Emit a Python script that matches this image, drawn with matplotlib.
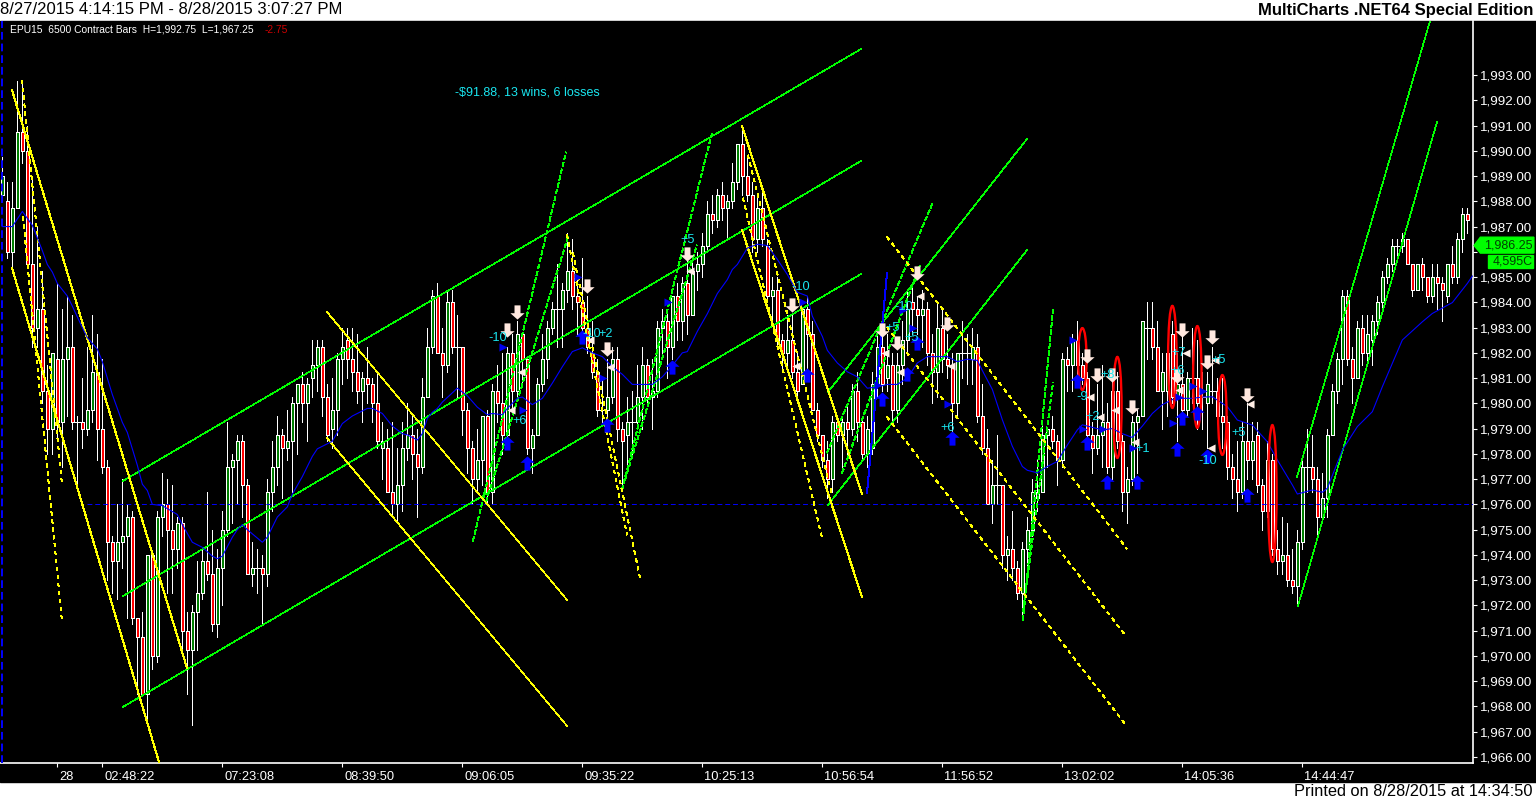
import matplotlib
matplotlib.use('Agg')
import matplotlib.pyplot as plt
from matplotlib.patches import Ellipse, Rectangle
from matplotlib.path import Path
from matplotlib.transforms import ScaledTranslation

plt.rcParams['font.family'] = ['Liberation Sans', 'DejaVu Sans']

# Candles, one value per bar
highs = [
    1989.75,1988.75,1988.75,1992.75,1992.75,1991,1989,1987,1985.25,1981.5,1982,1984.75,1983.75,1984.25,1983.5,1979.5,1981,1982.25,1983.5,1982.75,1981.75,1977.75,1974.75,1976,1977,1976,1975.75,1971.5,1971.75,1974,1974,1975.75,1977.25,1977,1976.75,1975.5,1975.5,1971.75,1972,1973.75,1974.25,1976.5,1975,1974.25,1975.75,1979.25,1978,1978.75,1978.75,
    1977,1974.5,1974.25,1974,1977,1978.5,1979.5,1979,1979.75,1980.25,1980.75,1981.25,1981,1982.5,1982.5,1982.5,1980.75,1981,1982,1983,1983,1983,1982.75,1981.25,1982.25,1981,1981.25,1979.25,1979,1979.25,1978.25,1979.25,1980,1979.5,1979,1981,1983,1984.5,1984.75,1983,1984.5,1984.5,1983.5,1982.25,1980,1978.5,1979,1979.5,1979.75,
    1980.75,1981.5,1982,1982.25,1982.75,1983.25,1982.75,1981.75,1979,1981,1982.75,1983.25,1984,1985.5,1984.75,1986.75,1986.5,1985,1985.75,1984.25,1983.25,1981.75,1981,1981.75,1982.25,1982.25,1979.25,1980.25,1980.5,1981.5,1982.25,1981.75,1981.75,1983.25,1983.75,1983.75,1984.25,1984.75,1985,1986,1985.75,1986,1986.75,1988,1988.25,1988.5,1988.75,1988.25,1989.5,
    1990.25,1991,1989.75,1988.75,1988.25,1988.5,1986.5,1985,1985,1982.75,1983.5,1983.5,1982,1983.75,1984.25,1983.25,1980,1978.75,1978.5,1979.5,1979.5,1979.5,1980,1980.75,1981.25,1979.5,1979.5,1981.25,1982.75,1983,1982.75,1982,1982,1983.25,1984.5,1984.75,1984.25,1984.5,1984,1982.75,1984,1983.75,1982.75,1982,1982,1983.25,1982.75,1983,1982.75,
    1980.75,1979,1977.75,1978.75,1976.75,1974.75,1975.75,1973.75,1974.5,1975.5,1977,1977.75,1979.25,1979,1979.5,1978.75,1982,1982.25,1982.75,1983.25,1982,1981.25,1979.25,1980.75,1981.5,1980,1981,1981.25,1978.75,1977.5,1979.5,1979.75,1983.25,1984,1984,1983.25,1982,1982.25,1983.25,1982,1983,1981.25,1983,1982.5,1981.25,1981.25,1982.25,1981,1981,
    1979.5,1978,1978.5,1979.25,1980,1979.25,1979.25,1977,1978.5,1978,1975,1975.5,1975.25,1974.25,1975,1977.75,1979,1978.75,1977.5,1977.25,1979,1980.75,1982,1984.5,1984.5,1982.25,1983.25,1983.5,1983.5,1983.5,1984.25,1985.25,1985.75,1986.5,1986.5,1986.75,1986.5,1985.5,1985.5,1985.75,1985,1985.5,1985.5,1985,1985.5,1986.25,1986.75,1987.75,1987.75,
]
body_tops = [
    1989,1988,1987.75,1990.75,1990.75,1990,1985.5,1983.75,1983.75,1980.5,1982,1981.75,1981.75,1982.25,1982.25,1979.25,1979.25,1979.75,1981.25,1981.25,1979,1977.5,1974.5,1974.5,1974.75,1975.5,1975.5,1971.5,1970.75,1974,1974,1975.5,1976,1976,1975,1975.25,1975.25,1971,1971.75,1972.5,1973.75,1973.75,1973.25,1973.5,1975,1977.5,1977.75,1978.5,1978.5,
    1976.75,1973.5,1973.5,1973.5,1976.5,1977.5,1978.75,1978.75,1978.5,1980,1980.75,1980.75,1980.75,1981.5,1982.25,1982.25,1980.25,1979.75,1981.75,1982.25,1982.5,1981.75,1981.25,1981,1981,1980.75,1980,1978.5,1978.25,1976.5,1976.75,1978.25,1978.75,1978.75,1978,1980.25,1982.25,1984.25,1984.25,1982,1984,1984,1982.25,1982.25,1979.75,1978.25,1977.75,1979.5,1979.5,
    1980.5,1980.5,1980,1982,1982,1982.75,1982.75,1981.75,1978.75,1980.75,1981.75,1983,1983.75,1983.75,1984.5,1985.25,1985.25,1984.25,1984,1983,1982,1981.25,1979.75,1980.25,1981.75,1981.75,1979,1979.25,1979.25,1980.25,1981.5,1981.5,1980.5,1983,1983.25,1983.25,1984.25,1984.25,1984.75,1984.75,1985.25,1985.5,1986.25,1987.5,1987.5,1988.25,1988.25,1988,1988.75,
    1990.25,1990.25,1989,1988.25,1987.75,1987.75,1986.25,1984.5,1984.5,1982.5,1982.5,1982.5,1981.25,1983.75,1983.75,1982.75,1979.75,1978.75,1977.75,1979.25,1979.25,1979.25,1979.25,1980.5,1980.5,1979.25,1979,1980.75,1982.25,1982.25,1981.5,1981.5,1981.5,1982.5,1983.75,1984,1983.75,1983.75,1983.75,1982,1983,1983,1981.75,1981.5,1982,1982,1982,1982.25,1982.25,
    1979.5,1978.25,1976.75,1976.75,1976.75,1974.25,1974.25,1973.5,1974.25,1975,1976.5,1976.5,1978.75,1979,1979,1978.5,1981.75,1981.75,1982.5,1982.5,1981.5,1981,1978.75,1978.75,1979.25,1979.25,1980.5,1980.5,1978.5,1977,1979.25,1979.5,1983.25,1983,1983,1982.25,1981.25,1982,1982.75,1980.75,1980.75,1981,1981,1981,1980.25,1980.75,1980.5,1980.5,1979.5,
    1979.25,1977.5,1977,1978.5,1978.5,1978.5,1978.75,1976.75,1977.75,1977.75,1974.25,1974,1974,1973,1974.5,1977.5,1977.5,1977.5,1977,1976.25,1978.75,1980.5,1981.75,1984.25,1984.25,1981.75,1983,1983,1982.75,1983.25,1984,1985,1985.5,1986.25,1986.25,1986.5,1986.5,1985.5,1985.5,1985.5,1985,1985,1985,1984.75,1985.5,1985.5,1986.5,1987.5,1987.5,
]
body_bottoms = [
    1988.25,1986,1986,1987.75,1990,1985.5,1983,1983,1980.5,1979,1979,1979.25,1979.25,1981.75,1979.25,1979.25,1979,1979,1979.75,1979,1977.5,1974.5,1973.75,1973.75,1974.5,1974.75,1971.5,1970.75,1968.5,1968.5,1970,1970,1975.5,1975,1974.25,1974.25,1971,1970.25,1970.25,1971.75,1972.5,1973.25,1971.25,1971.25,1973.5,1975,1977.5,1977.75,1976.75,
    1973.25,1973.25,1973.5,1973.25,1973.25,1976.5,1977.5,1978.25,1978.25,1978.5,1980,1980,1980,1981,1981.5,1980.25,1978.75,1979,1979.75,1981.75,1981.75,1981.25,1980.5,1980.5,1980.75,1980,1978.5,1978.25,1976.5,1976,1976,1976.75,1978.25,1978,1977.5,1977.5,1980.25,1982.25,1982,1981.5,1981.5,1982.25,1982.25,1979.75,1978.25,1977,1977,1977.75,1976.5,
    1976.5,1980,1978.75,1978.75,1980.5,1980.5,1981.75,1978.25,1978.25,1978.75,1980.75,1981.75,1983,1983.75,1983.75,1984.5,1984.25,1984,1983,1982.25,1981.25,1979.75,1979.75,1979.75,1980.25,1979,1978.5,1978.75,1979.25,1979.25,1980.25,1980.25,1980.25,1980.5,1983,1982.25,1982.25,1983.25,1983.25,1983.5,1983.5,1985.25,1985.5,1986.25,1987.25,1987.25,1987.75,1987.75,1988,
    1988.75,1989,1988.25,1986.5,1986.5,1986.5,1984.25,1984.25,1982.5,1982,1982,1981.25,1980.5,1980.75,1982.75,1979.75,1978.75,1977.75,1977,1977,1978.75,1978.75,1979,1979,1979.25,1978,1978,1978.25,1980.75,1980.75,1981,1979.75,1979.75,1981.5,1982.5,1983.75,1983.5,1983.5,1982,1981.25,1981.25,1981.75,1981.5,1980,1980,1982,1982,1981.75,1979.5,
    1978.25,1976,1976,1976.75,1974,1974,1973.5,1972.5,1972.5,1974.25,1975,1976.25,1976.5,1978.75,1978.5,1977.75,1977.75,1981.5,1981.5,1981.5,1981,1978.75,1978.25,1978.25,1978.75,1977.5,1977.5,1978.5,1976.5,1976.5,1977,1979.25,1979.5,1983,1982.25,1980.5,1980.5,1980.5,1980.25,1980.25,1979.75,1979.75,1981,1980,1980.25,1980,1980.5,1979.5,1979.25,
    1977.5,1977,1976.5,1976.5,1977.75,1977.75,1976.75,1975.75,1975.75,1974.25,1973.75,1973.75,1973,1972.75,1972.75,1974.5,1977.5,1977,1975.5,1975.5,1976.25,1978.75,1980.5,1981.75,1981.75,1981,1981,1982,1982,1982.5,1983.25,1984,1985,1985.5,1986.25,1986.25,1985.5,1984.5,1984.5,1985,1984.25,1984.25,1984.75,1984.5,1984.25,1985,1985,1986.5,1987.25,
]
lows = [
    1988,1985.75,1985.25,1987.75,1989.5,1985.5,1982.25,1982.25,1980,1978,1978,1978.5,1977.5,1979.5,1979,1976.75,1978.25,1978.75,1979.25,1977.75,1977.25,1973,1972.5,1972.25,1973.5,1971.5,1971.25,1968.5,1968.5,1967.5,1969.5,1969.75,1974.75,1972.5,1972.5,1973.5,1970.25,1968.5,1967.25,1970.25,1972.25,1973,1971,1970.75,1972,1974.75,1975.25,1976,1975.5,
    1973.25,1972.75,1972.5,1971.25,1972.75,1975.75,1976.75,1976.25,1977.75,1976.5,1978,1979.25,1978.5,1980.25,1980.5,1979.5,1978.5,1978.25,1978.75,1980.75,1981,1980.5,1980,1979.25,1980,1979.25,1978.25,1977,1976.5,1975.5,1975.25,1975.75,1977.75,1977,1975.5,1977.25,1980.25,1982,1982,1980.25,1981.25,1982,1980.25,1978.75,1977.25,1976,1976.5,1976.75,1976,
    1976,1979.25,1978,1978.5,1979.75,1980.25,1980.75,1978,1977.25,1978.75,1980.5,1981,1982.75,1982.25,1982.25,1984,1983.75,1982.75,1982.75,1982,1981,1979.5,1979.25,1979.5,1980,1978.5,1976.75,1977.25,1978,1979,1979,1980,1979,1980.25,1982,1981,1981.75,1982.5,1982.5,1982.75,1983.5,1984.5,1985,1986,1986.75,1987,1987.25,1986.5,1987.75,
    1988.5,1988.25,1988,1986,1986,1986.25,1984,1983.25,1982.25,1981.25,1981.5,1981,1980.25,1980.75,1981,1979.75,1978.5,1977.5,1976.25,1976.5,1978.5,1977.25,1978,1978.75,1978.5,1977.75,1977.5,1978,1980.25,1980.5,1980.5,1979.25,1979.25,1980.75,1982,1982.75,1982.75,1982.25,1981.5,1980,1980.25,1981.25,1981,1978.75,1979.5,1981,1980.75,1980.75,1979.25,
    1978,1976,1975.25,1976,1973.5,1973,1973,1972.25,1971.5,1973.5,1974.75,1975.75,1976.5,1977.5,1978.25,1976.75,1977.5,1980.5,1980.5,1980.75,1980.75,1978.5,1977.25,1978,1977.5,1977.25,1977,1978.25,1975.75,1975.25,1976.75,1977.25,1979.5,1981.75,1981.75,1980.5,1979,1979.5,1980,1978.5,1979.5,1979.5,1980,1979,1979,1978.25,1980,1979.5,1978.25,
    1977,1976.25,1975.75,1976.25,1977,1977,1976.5,1975,1975.5,1974,1973.25,1973.25,1972.75,1972.5,1972,1974.25,1976.5,1976.5,1974.75,1975.5,1975.5,1978.75,1980,1980.75,1981.5,1980,1981,1981.5,1981.5,1981.5,1982.75,1983.75,1984.75,1985.25,1985.75,1986,1985.5,1984.25,1984.5,1984.5,1984,1984,1983.75,1983.25,1984,1984.75,1984.75,1986,1986.75,
]
# g = up bar, r = down bar, w = open equals close
bar_kinds = list(
    "grggrrrgrr" "grggrwrggr" "rrrgggrrrg" "rggrrgrrgg" "grrgggggr"
    "rgwrgggrgg" "grgggrrggg" "rrrgrrrgrr" "gggrrgggrr" "grwrrrggr"
    "grrgrgrrgg" "gggwggrrrr" "rrwggrrgwg" "grgggrgrgr" "ggggrgrgg"
    "grrrgrrgrr" "grrgrrrrrg" "rgrgrrgggr" "grgggrrgrr" "grrrgwwgr"
    "rrgwrgrrgg" "ggggrrgrgr" "rrrggrgrrg" "gggwrrggrg" "rgwrwgwrr"
    "rrrgrgrrgr" "rgrrggwrrg" "ggggrrgrgg" "ggggwgrrgr" "rgrrgrggr"
)

# Blue average, sampled where its bends can be read
avg_bars = [0,2,4,6,8,9,10,11,13,14,16,17,19,20,22,24,25,27,28,29,30,32,35,36,38,40,42,43,44,46,47,48,
            49,52,53,55,57,58,60,62,63,65,66,68,70,72,73,74,76,78,80,81,83,84,85,86,87,88,91,93,95,97,
            98,100,101,103,104,106,108,110,112,114,116,118,120,122,124,126,128,130,132,134,136,137,139,141,143,145,146,
            147,149,151,153,155,157,159,161,162,164,165,167,169,171,173,175,177,179,181,183,185,187,189,191,193,195,
            196,198,200,202,204,205,206,207,209,211,213,215,216,218,220,222,224,226,228,230,232,234,236,238,240,242,
            245,247,250,253,255,258,259,262,264,265,268,271,274,276,280,284,286,290,293,294]
avg_prices = [1987,1987,1987.6,1987.05,1986.05,1985.5,1985.2,1984.75,1984.25,1983.85,1983,1982.6,1982.15,1981.65,1980.35,1979.25,1978.85,1977.55,1976.8,1976.55,1976,1975.95,1975.6,1975.2,1974.5,1974.3,1973.95,1973.85,1973.95,1974.7,1975,1975.2,
              1975,1974.5,1974.7,1975.5,1975.9,1976.4,1977.1,1977.9,1978.2,1978.4,1978.5,1979.2,1979.5,1979.7,1979.8,1979.8,1979.6,1979.1,1978.8,1978.75,1978.55,1978.8,1979.4,1979.65,1979.8,1980.05,1980.6,1980.3,1979.85,1979.55,
              1979.6,1979.55,1979.8,1980.2,1980.25,1979.95,1980.2,1980.8,1981.45,1982.05,1982.2,1982,1981.85,1981.45,1981.15,1980.75,1980.75,1980.75,1981.05,1981.5,1982,1982.05,1982.85,1983.55,1984.35,1984.9,1985.3,
              1985.5,1986.15,1986.3,1986.25,1985.7,1985.1,1984.4,1984.25,1983.45,1982.65,1982.1,1981.6,1981.25,1981.05,1980.6,1980.65,1980.75,1980.75,1981,1981.6,1981.85,1981.85,1981.85,1981.65,1981.75,1981.7,
              1981.3,1980.55,1979.35,1978.3,1977.5,1977.35,1977.3,1977.25,1977.5,1977.7,1978.35,1978.95,1979.15,1979.05,1978.95,1979,1978.8,1978.65,1979.1,1979.6,1979.95,1980.15,1980.2,1980.2,1980.25,1980.26,
              1979.87,1979.34,1979.14,1978.48,1977.76,1976.77,1976.41,1976.57,1976.48,1976.64,1978.15,1979.08,1979.67,1980.66,1982.51,1983.23,1983.56,1983.99,1984.75,1985.04]

# Trend lines as (bar, bar, price, price)
green_solid = [
    (24.13, 171.73, 1976.93, 1994.03), (24.13, 171.73, 1972.37, 1989.6), (24.13, 171.73, 1967.98, 1985.12),
    (165.13, 204.93, 1980.45, 1990.47), (165.13, 204.93, 1975.98, 1986.07),
    (258.93, 285.53, 1977.09, 1995.14), (259.13, 286.93, 1971.98, 1991.14),
]
green_dashed = [
    (94.13, 112.73, 1974.55, 1989.95), (96.73, 113.13, 1976.1, 1986.59),
    (123.93, 141.93, 1976.57, 1990.7), (124.53, 138.93, 1976.97, 1986.27),
    (164.93, 186.13, 1978.04, 1987.97), (167.93, 183.53, 1977.24, 1985.48),
    (204.13, 210.13, 1971.42, 1983.7), (204.13, 210.13, 1971.74, 1980.81),
]
yellow_thick = [
    (1.93, 36.93, 1992.41, 1969.52), (1.93, 31.33, 1985.36, 1965.8),
    (147.93, 171.93, 1990.98, 1976.41), (147.93, 171.93, 1986.86, 1972.33),
]
yellow_thin = [(64.93, 112.93, 1983.62, 1972.22), (64.93, 112.93, 1978.63, 1967.23)]
yellow_dashed = [
    (3.93, 11.93, 1992.8, 1976.81), (4.13, 11.93, 1987.38, 1971.38),
    (148.13, 163.93, 1988.13, 1974.67), (149.13, 165.93, 1989.83, 1976.37),
    (112.93, 124.93, 1986.67, 1974.79), (114.13, 127.53, 1985.95, 1973.09),
    (176.93, 224.93, 1986.59, 1974.24), (176.93, 224.53, 1983.02, 1970.83), (176.93, 224.53, 1979.46, 1967.31),
]
blue_solid = [(172.93, 176.93, 1976.45, 1985.16)]

# Red ellipses round the losing trades
ellipse_bars = [216, 223, 234, 239, 244, 254]
ellipse_tops = [1982.98, 1981.84, 1983.86, 1983.06, 1981.12, 1979.14]
ellipse_bottoms = [1980.53, 1977.84, 1979.82, 1979.03, 1977.96, 1973.72]

# Trade markers
up_bars = [101,105,116,121,134,161,176,181,183,190,215,217,221,227,235,236,239,241,249]
up_prices = [1978.43,1977.64,1982.63,1979.14,1981.44,1981.12,1980.17,1981.16,1982.39,1978.63,1980.89,1978.43,1976.89,1976.89,1978.19,1979.42,1979.62,1977.92,1976.37]
down_bars = [103,101,117,121,137,158,176,179,183,189,217,219,222,226,235,236,241,242,249]
down_prices = [1983.62,1982.91,1984.65,1982.15,1985.91,1983.89,1982.91,1982.39,1985.16,1983.14,1981.88,1981.12,1981.12,1979.86,1981.08,1982.91,1981.64,1982.63,1980.33]
right_bars = [100.1,104.1,115.1,120.1,133.1,160.1,182.1,189.1,175.1,180.1,214.1,216.1,220.1,226.1,234.1,235.3,238.1,240.1]
right_prices = [1982.23,1979.74,1985,1981,1984.01,1984.01,1982.98,1979.98,1980.73,1983.7,1982.51,1978.99,1978.99,1978.23,1979.22,1980.25,1980.69,1980.49]
left_bars = [101.7,103.7,137.5,117.5,121.5,158.7,176.5,179.5,183.5,189.7,217.5,219.5,222.5,226.5,236.7,235.3,241.7,242.5,249.5]
left_prices = [1979.74,1981.24,1985.24,1982.51,1981.44,1981.48,1981.99,1981.24,1984.25,1981.48,1980.25,1979.46,1979.74,1978.47,1981.99,1980.53,1978.23,1981.72,1979.98]

# Trade results
result_texts = ['-10','+6','+5','-10','+2','-10','+5','-10','+5','+6','+8','-9','+2','+1','+7','+6','-10','+5','+5']
result_bars = [99,103.5,137,117.9,120.7,159.7,178,180.3,181.9,189,221.1,216,218,228,235.3,235.1,241,243.2,247.2]
result_prices = [1982.59,1979.3,1986.47,1982.75,1982.75,1984.6,1983,1983.8,1982.6,1979.03,1981.12,1980.25,1979.46,1978.2,1982,1981.28,1977.72,1981.72,1978.83]

# Axis labels, 1,986.00 sits under the last price tag
price_ticks = list(range(1966, 1994))
price_tick_labels = ['' if p == 1986 else f'{p:,.2f}' for p in price_ticks]
time_tick_bars = [11, 20, 44, 68, 92, 116, 140, 164, 188, 212, 236, 260]
time_tick_labels = ['28', '02:48:22', '07:23:08', '08:39:50', '09:06:05', '09:35:22', '10:25:13',
                    '10:56:54', '11:56:52', '13:02:02', '14:05:36', '14:44:47']

assert len(highs) == len(body_tops) == len(body_bottoms) == len(lows) == len(bar_kinds)
assert len(avg_bars) == len(avg_prices)

W, H = 1536, 801
fig = plt.figure(figsize=(W / 100, H / 100), dpi=100, facecolor='white')
fig.add_artist(Rectangle((0, 19 / H), 1, 761 / H, transform=fig.transFigure, color='black', zorder=-5))

ax = fig.add_axes([0, 1 - 763 / H, 1473 / W, 742 / H], facecolor='black')
ax.set_xlim(-0.466, 294.13)
ax.set_ylim(1965.76, 1995.14)

# Wicks, then bodies on top
bars = list(range(len(highs)))
ax.vlines(bars, lows, highs, color='white', lw=0.7, antialiased=False, zorder=2)
colours = {'g': '#008000', 'r': '#ff0000', 'w': 'white'}
solid = [i for i in bars if bar_kinds[i] != 'w']
ax.bar(solid, [body_tops[i] - body_bottoms[i] for i in solid], bottom=[body_bottoms[i] for i in solid],
       width=0.66, color=[colours[bar_kinds[i]] for i in solid], edgecolor='white', linewidth=0.6,
       antialiased=False, zorder=3)
doji = [i for i in bars if bar_kinds[i] == 'w']
ax.hlines([body_tops[i] for i in doji], [i - 0.45 for i in doji], [i + 0.45 for i in doji],
          color='white', lw=0.7, antialiased=False, zorder=3)

# Session break and reference price
ax.axvline(0, color='#0000ff', lw=1.4, ls=(0, (4, 2)), zorder=4)
ax.plot([17, 294.13], [1976, 1976], color='#0000ff', lw=0.7, ls=(0, (5, 3)), zorder=4)


def draw_lines(segments, **style):
    for x0, x1, y0, y1 in segments:
        ax.plot([x0, x1], [y0, y1], antialiased=False, zorder=5, **style)


draw_lines(green_solid, color='#00ff00', lw=0.42)
draw_lines(green_dashed, color='#00ff00', lw=0.42, ls=(0, (7, 5)))
draw_lines(yellow_thick, color='#ffff00', lw=0.75)
draw_lines(yellow_thin, color='#ffff00', lw=0.42)
draw_lines(yellow_dashed, color='#ffff00', lw=0.42, ls=(0, (6, 7)))
draw_lines(blue_solid, color='#0000ff', lw=0.75)
ax.plot(avg_bars, avg_prices, color='#0000ff', lw=0.8, zorder=5)

for bar, top, bottom in zip(ellipse_bars, ellipse_tops, ellipse_bottoms):
    ax.add_patch(Ellipse((bar, (top + bottom) / 2), 1.7, top - bottom, fill=False, edgecolor='#ff0000',
                         lw=1.7, zorder=6))

up_arrow = Path([(0, 1), (1, 0.1), (0.42, 0.1), (0.42, -1), (-0.42, -1), (-0.42, 0.1), (-1, 0.1), (0, 1)], closed=True)
down_arrow = Path([(0, -1), (1, -0.1), (0.42, -0.1), (0.42, 1), (-0.42, 1), (-0.42, -0.1), (-1, -0.1), (0, -1)], closed=True)
ax.scatter(up_bars, up_prices, s=105, marker=up_arrow, color='#0000ff', linewidths=0, zorder=7)
ax.scatter(down_bars, down_prices, s=105, marker=down_arrow, color='#ffe8df', linewidths=0, zorder=7)
ax.scatter(right_bars, right_prices, s=34, marker='>', color='#0000ee', linewidths=0, zorder=7)
ax.scatter(left_bars, left_prices, s=34, marker='<', color='#ffeee6', linewidths=0, zorder=7)

for text, bar, price in zip(result_texts, result_bars, result_prices):
    ax.text(bar, price, text, color='#19e6f0', fontsize=9.2, ha='center', va='center', zorder=8)
ax.text(90.5, 1992.3, '-$91.88, 13 wins, 6 losses', color='#19e6f0', fontsize=9, ha='left', va='center', zorder=8)

# Axes
for side in ['top', 'left']:
    ax.spines[side].set_visible(False)
for side in ['right', 'bottom']:
    ax.spines[side].set_color('white')
    ax.spines[side].set_linewidth(1.2)
ax.yaxis.tick_right()
ax.set_yticks(price_ticks)
ax.set_yticklabels(price_tick_labels)
ax.set_xticks(time_tick_bars)
ax.set_xticklabels(time_tick_labels)
ax.tick_params(axis='y', colors='white', length=3, width=0.8, pad=2, labelsize=9.6)
ax.tick_params(axis='x', colors='white', length=3, width=0.8, pad=3, labelsize=9.3)
for lab in ax.get_xticklabels():
    lab.set_ha('left')
    lab.set_transform(lab.get_transform() + ScaledTranslation(2 / 100, 0, fig.dpi_scale_trans))

# Last price tag and volume box, right of the plot
ax.fill([294.35, 295.6, 306.3, 306.3, 295.6], [1986.25, 1986.58, 1986.58, 1985.95, 1985.95],
        color='#00ff00', clip_on=False, zorder=9)
ax.text(306, 1986.26, '1,986.25', color='#004000', fontsize=9, ha='right', va='center', clip_on=False, zorder=10)
ax.fill([297.1, 306.2, 306.2, 297.1], [1985.88, 1985.88, 1985.36, 1985.36], color='#00ff00', clip_on=False, zorder=9)
ax.text(306, 1985.6, '4,595C', color='#004000', fontsize=9, ha='right', va='center', clip_on=False, zorder=10)

# Header, footer and status line
fig.text(0, 1 - 10 / H, '8/27/2015 4:14:15 PM - 8/28/2015 3:07:27 PM', color='black', fontsize=12, ha='left', va='center')
fig.text(1533 / W, 1 - 10 / H, 'MultiCharts .NET64 Special Edition', color='black', fontsize=12, fontweight='bold', ha='right', va='center')
fig.text(1533 / W, 1 - 791.5 / H, 'Printed on 8/28/2015 at 14:34:50', color='black', fontsize=11.8, ha='right', va='center')
fig.text(10 / W, 1 - 30 / H, 'EPU15  6500 Contract Bars  H=1,992.75  L=1,967.25', color='white', fontsize=7.4, ha='left', va='center')
fig.text(265 / W, 1 - 30 / H, '-2.75', color='#cc0000', fontsize=7.4, ha='left', va='center')

fig.savefig('out.png', dpi=100)
